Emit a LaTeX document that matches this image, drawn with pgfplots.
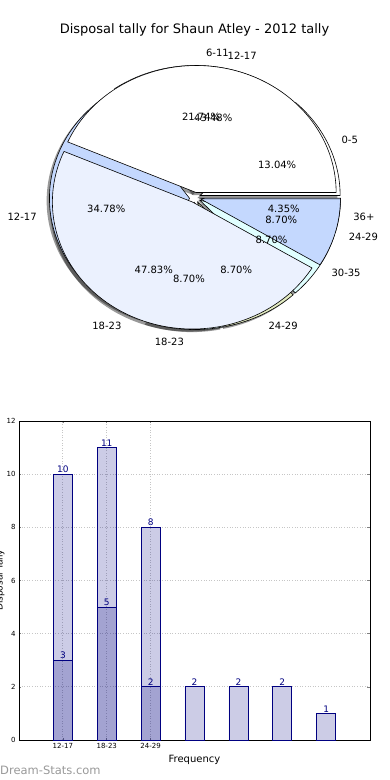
\documentclass[border=0pt]{standalone}
\usepackage{pgfplots}
\usepackage{pgfplotstable}
\pgfplotsset{compat=1.18}
\usepackage{fontspec}
\setmainfont{DejaVu Sans}
\pgfkeys{/pgf/number format/assume math mode=true}
\definecolor{pieW}{HTML}{FFFFFF}
\definecolor{pieVL}{HTML}{EBF1FE}
\definecolor{pieLB}{HTML}{C4D8FE}
\definecolor{pieCy}{HTML}{E0FFFF}
\definecolor{pieYG}{HTML}{E3ECC2}
\definecolor{barnavy}{HTML}{000080}
\newcommand\pielabfont{\fontsize{10}{12}\selectfont}

% Pie 1 : all disposal ranges (23 games)
\pgfplotstableread{
label count color
0-5   3  pieW
6-11  5  pieVL
12-17 8  pieLB
18-23 2  pieCy
24-29 2  pieYG
30-35 2  pieCy
36+   1  pieLB
}\pieA
% Pie 2
\pgfplotstableread{
label count color
12-17 10 pieW
18-23 11 pieVL
24-29 2  pieLB
}\pieB

\newcommand\piepass[2]{%
  \pgfplotstablegetrowsof{#1}%
  \pgfmathtruncatemacro\lastrow{\pgfplotsretval-1}%
  \xdef\cum{0}%
  \foreach \i in {0,...,\lastrow}{%
    \pgfplotstablegetelem{\i}{count}\of{#1}\let\cnt\pgfplotsretval
    \pgfplotstablegetelem{\i}{color}\of{#1}\let\col\pgfplotsretval
    \pgfplotstablegetelem{\i}{label}\of{#1}\let\lab\pgfplotsretval
    \pgfmathsetmacro\sa{\cum*360/23}%
    \pgfmathsetmacro\ea{(\cum+\cnt)*360/23}%
    \pgfmathsetmacro\ma{(\sa+\ea)/2}%
    \pgfmathsetmacro\cx{0.04*cos(\ma)}%
    \pgfmathsetmacro\cy{0.04*sin(\ma)}%
    \ifcase#2\relax
      \pgfmathsetmacro\sx{\cx-0.02+cos(\sa)}\pgfmathsetmacro\sy{\cy-0.02+sin(\sa)}%
      \pgfmathsetmacro\tx{\cx-0.02}\pgfmathsetmacro\ty{\cy-0.02}%
      \fill[black,fill opacity=0.4] (axis cs:\tx,\ty) -- (axis cs:\sx,\sy) arc[start angle=\sa,end angle=\ea,x radius=140pt,y radius=127pt] -- cycle;
    \or
      \pgfmathsetmacro\sx{\cx+cos(\sa)}\pgfmathsetmacro\sy{\cy+sin(\sa)}%
      \filldraw[fill=\col,draw=black,line width=0.6pt] (axis cs:\cx,\cy) -- (axis cs:\sx,\sy) arc[start angle=\sa,end angle=\ea,x radius=140pt,y radius=127pt] -- cycle;
    \or
      \pgfmathsetmacro\lx{1.14*cos(\ma)}\pgfmathsetmacro\ly{1.14*sin(\ma)}%
      \pgfmathsetmacro\px{0.64*cos(\ma)}\pgfmathsetmacro\py{0.64*sin(\ma)}%
      \pgfmathtruncatemacro\isright{cos(\ma)>0}%
      \ifnum\isright=1 \def\anc{west}\else\def\anc{east}\fi
      \node[anchor=\anc,font=\pielabfont,inner sep=0pt] at (axis cs:\lx,\ly) {\lab};
      \pgfmathsetmacro\pct{\cnt*100/23}%
      \node[font=\pielabfont,inner sep=0pt] at (axis cs:\px,\py) {\pgfmathprintnumber[fixed,fixed zerofill,precision=2]{\pct}\%};
    \fi
    \pgfmathsetmacro\newcum{\cum+\cnt}\xdef\cum{\newcum}%
  }}

\begin{document}
\begin{tikzpicture}[x=1pt,y=1pt]
\useasboundingbox (0,0) rectangle (390,780);
\node[font=\fontsize{13}{15}\selectfont] at (194.5,750) {Disposal tally for Shaun Atley - 2012 tally};

% ---------- pie ----------
\begin{axis}[at={(195pt,582.5pt)}, anchor=center, scale only axis,
  width=280pt, height=254pt, xmin=-1, xmax=1, ymin=-1, ymax=1,
  hide axis, clip=false]
\pgfplotsextra{%
  \piepass\pieA0
  \piepass\pieB0
  \piepass\pieA1
  \piepass\pieB1
  \piepass\pieA2
  \piepass\pieB2
}
\end{axis}

% ---------- bars ----------
\begin{axis}[at={(19pt,40pt)}, anchor=south west, scale only axis,
  width=351pt, height=319pt,
  xmin=-1, xmax=7, ymin=0, ymax=12,
  ytick={0,2,4,6,8,10,12},
  xtick={0,1,2}, xticklabels={12-17,18-23,24-29},
  tick label style={font=\fontsize{7}{8}\selectfont},
  xmajorgrids, ymajorgrids,
  grid style={dash pattern=on 1pt off 1.6pt, color=gray!45, line width=0.9pt},
  axis line style={line width=0.8pt},
  tick align=inside, major tick length=2.5pt,
  tick style={gray, line width=0.6pt},
  xlabel={Frequency},
  xlabel style={at={(axis description cs:0.5,0)}, anchor=center, yshift=-20pt, font=\fontsize{10}{12}\selectfont},
  ylabel={Disposal Tally},
  ylabel style={at={(axis description cs:-0.054,0.5)}, anchor=center, font=\fontsize{9}{10}\selectfont},
  nodes near coords,
  nodes near coords style={text=barnavy, text opacity=1, font=\fontsize{9}{10}\selectfont, inner sep=1pt, anchor=south},
]
\addplot[ybar, bar width=19pt, bar shift=0pt, fill=barnavy, fill opacity=0.2, draw=barnavy, draw opacity=1, line width=0.7pt]
  coordinates {(0,10) (1,11) (2,8) (3,2) (4,2) (5,2) (6,1)};
\addplot[ybar, bar width=19pt, bar shift=0pt, fill=barnavy, fill opacity=0.2, draw=barnavy, draw opacity=1, line width=0.7pt]
  coordinates {(0,3) (1,5) (2,2)};
\end{axis}

\node[anchor=west, text=black!40, font=\fontsize{11.5}{13}\selectfont, inner sep=0pt] at (0,10) {Dream-Stats.com};
\end{tikzpicture}
\end{document}
